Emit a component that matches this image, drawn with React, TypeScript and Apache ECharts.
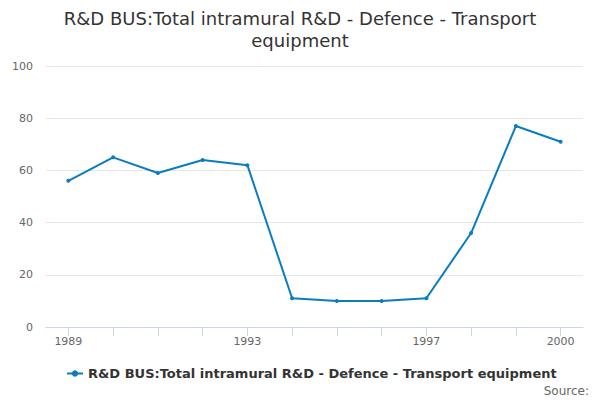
import React, { useEffect, useRef } from "react";
import * as echarts from "echarts";

const titleText = "R&D BUS:Total intramural R&D - Defence - Transport\nequipment";
const seriesName = "R&D BUS:Total intramural R&D - Defence - Transport equipment";
const years = ["1989", "1990", "1991", "1992", "1993", "1994", "1995", "1996", "1997", "1998", "1999", "2000"];
const values = [56, 65, 59, 64, 62, 11, 10, 10, 11, 36, 77, 71];
const shownLabels = ["1989", "1993", "1997", "2000"];

const FONT = "'DejaVu Sans', sans-serif";

export default function App() {
  const ref = useRef<HTMLDivElement>(null);
  useEffect(() => {
    document.body.style.margin = "0";
    const chart = echarts.init(ref.current!, null, { renderer: "svg" });
    chart.setOption({
      animation: false,
      textStyle: { fontFamily: FONT },
      title: {
        text: titleText,
        left: "center",
        top: 2,
        textStyle: { fontSize: 18, fontWeight: "normal", color: "#333", lineHeight: 22, fontFamily: FONT },
      },
      legend: {
        data: [seriesName],
        bottom: 15,
        left: 61,
        itemWidth: 16,
        itemHeight: 8,
        itemGap: 6,
        textStyle: { fontSize: 13, fontWeight: "bold", color: "#333", fontFamily: FONT },
      },
      graphic: [
        {
          type: "text",
          right: 11,
          bottom: 3,
          style: { text: "Source:", fontSize: 12, fill: "#666", fontFamily: FONT },
        },
      ],
      grid: { left: 46, right: 17, top: 66, bottom: 73, containLabel: false },
      xAxis: {
        type: "category",
        data: years,
        boundaryGap: true,
        axisLine: { lineStyle: { color: "#ccd6eb" } },
        axisTick: { show: true, alignWithLabel: true, interval: 0, length: 9, lineStyle: { color: "#ccd6eb", width: 1 } },
        axisLabel: {
          interval: (_i: number, v: string) => shownLabels.includes(v),
          color: "#666",
          fontSize: 11,
          margin: 9,
          fontFamily: FONT,
        },
      },
      yAxis: {
        type: "value",
        min: 0,
        max: 100,
        interval: 20,
        axisLine: { show: false },
        axisTick: { show: false },
        splitLine: { lineStyle: { color: "#e6e6e6" } },
        axisLabel: { color: "#666", fontSize: 11, margin: 13, fontFamily: FONT },
      },
      series: [
        {
          name: seriesName,
          type: "line",
          data: values,
          symbol: "circle",
          symbolSize: 4,
          lineStyle: { color: "#0a7cc1", width: 2 },
          itemStyle: { color: "#0a7cc1" },
        },
      ],
    });
    return () => chart.dispose();
  }, []);
  return <div ref={ref} style={{ position: "absolute", left: 0, top: 0, width: 600, height: 400 }} />;
}
